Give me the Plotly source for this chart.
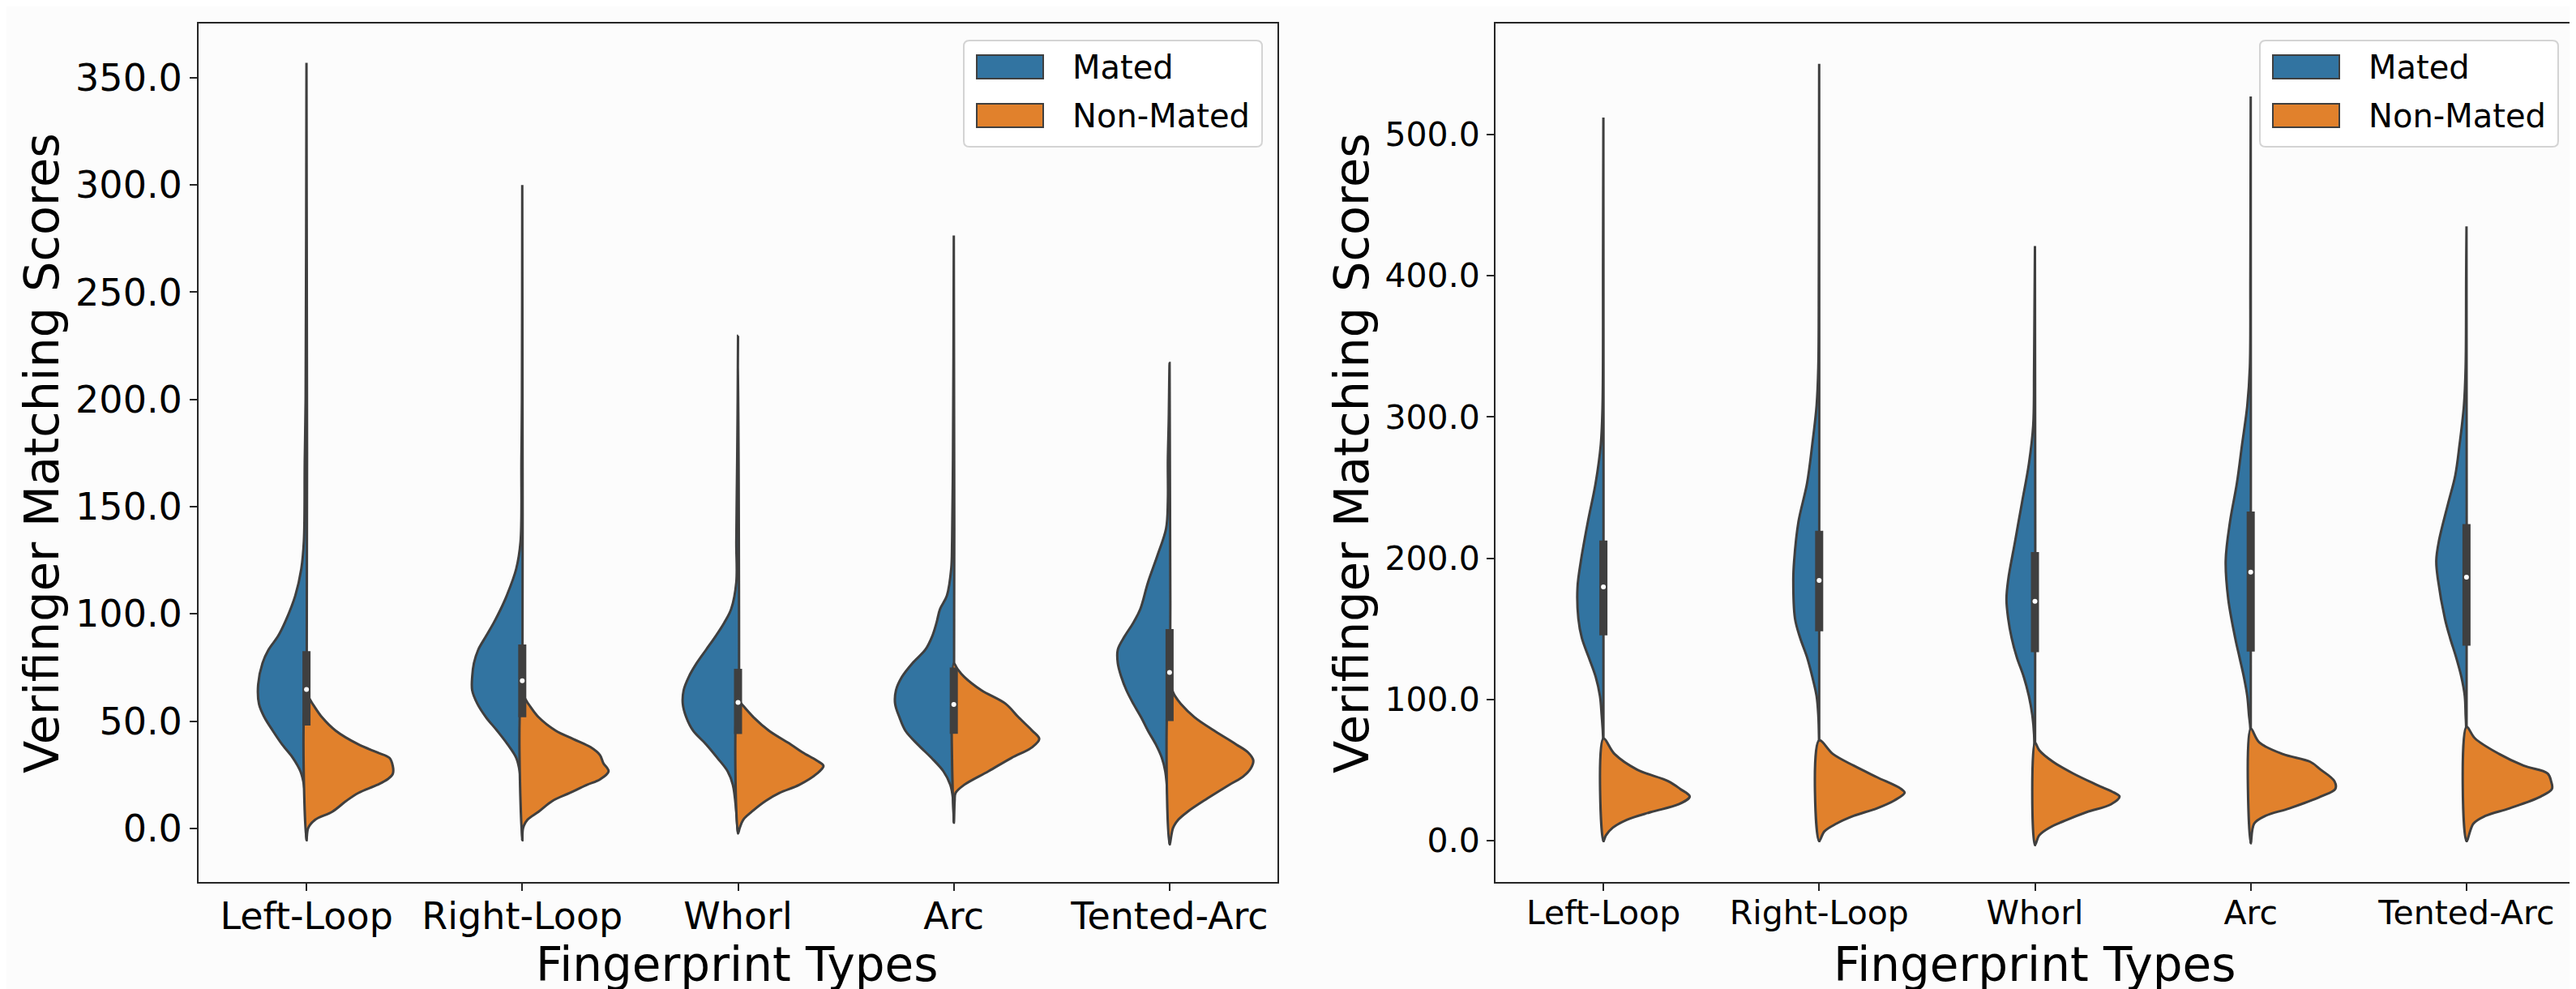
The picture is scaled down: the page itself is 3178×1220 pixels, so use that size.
import plotly.graph_objects as go

W, H = 3178, 1220
CATEGORIES = ["Left-Loop", "Right-Loop", "Whorl", "Arc", "Tented-Arc"]
SERIES = ["Mated", "Non-Mated"]

# ---------------- Left panel: score grid and relative density (max = 1) ----------------
L_MATED_Y = [
    [357, 200, 171, 134, 121, 108.5, 96, 89.6, 83.3, 77, 67, 58, 52, 45.5, 39, 33, 26.6, 20.3, 7.8, -5.5],
    [300, 200, 171.4, 133.6, 121, 108.5, 102.2, 95.9, 89.6, 83.3, 77, 70.7, 64.4, 58.1, 51.8, 45.5, 39.2, 32.9, 26.6, 14, -5.5],
    [229.7, 200, 171.4, 133.6, 114.7, 102.2, 95.9, 89.6, 83.3, 77.0, 70.7, 64.4, 58.1, 51.8, 45.5, 39.2, 32.9, 26.6, 20.3, 7.7, -2.3],
    [276.5, 220, 171.4, 133.6, 121.0, 108.5, 102.2, 95.9, 89.6, 83.3, 77.0, 70.7, 64.4, 58.1, 51.8, 45.5, 39.2, 32.9, 26.6, 20.3, 14.0, 2.7],
    [217, 190, 171.4, 152.5, 139.9, 127.3, 114.7, 102.2, 95.9, 89.6, 83.3, 77.0, 70.7, 64.4, 58.1, 51.8, 45.5, 39.2, 32.9, 26.6, 14.0, -7.4],
]
L_MATED_D = [
    [0, .01, .02, .03, .06, .13, .25, .33, .44, .51, .56, .55, .49, .39, .28, .16, .07, .03, .01, 0],
    [0, .004, .01, .02, .07, .18, .25, .33, .42, .51, .56, .58, .58, .52, .42, .29, .17, .07, .03, .01, 0],
    [0, .004, .01, .02, .02, .08, .16, .26, .37, .48, .57, .63, .64, .60, .52, .37, .24, .12, .06, .02, 0],
    [0, .004, .01, .02, .03, .08, .16, .20, .25, .33, .48, .60, .67, .68, .63, .56, .42, .26, .12, .04, .01, 0],
    [0, .01, .02, .02, .04, .14, .25, .34, .42, .52, .60, .60, .56, .50, .42, .33, .25, .16, .09, .05, .02, 0],
]
L_NONMATED_Y = [
    [62, 58.1, 51.8, 45.5, 39.2, 35.4, 32.9, 29.1, 25.4, 22.9, 20.3, 16.5, 12.8, 7.8, 4.0, 0.2, -5.5],
    [61.9, 58.1, 51.8, 45.5, 41.7, 37.9, 34.2, 30.4, 26.6, 22.8, 20.3, 16.5, 12.8, 7.8, 4.0, 0.2, -5.5],
    [60.0, 58.1, 51.8, 45.5, 39.2, 35.4, 31.7, 29.1, 25.4, 20.3, 16.5, 12.8, 7.8, 4.0, 0.2, -2.3],
    [77, 74.5, 70.7, 64.4, 58.1, 51.8, 45.5, 41.7, 37.9, 32.9, 26.6, 20.3, 16.5, 12.8, 2.7],
    [66.3, 61.9, 58.1, 51.8, 45.5, 39.2, 35.4, 31.7, 27.9, 24.1, 20.3, 14.0, 7.8, 4.0, 0.2, -7.4],
]
L_NONMATED_D = [
    [0, .07, .18, .34, .60, .82, .96, 1.0, 1.0, .94, .82, .60, .46, .30, .10, .02, 0],
    [0, .07, .19, .39, .59, .79, .90, .94, 1.0, .90, .75, .55, .35, .19, .06, .01, 0],
    [0, .04, .18, .36, .61, .75, .91, .99, .91, .71, .48, .32, .16, .06, .02, 0],
    [0, .04, .12, .32, .60, .75, .91, .99, .91, .67, .40, .12, .02, .01, 0],
    [0, .06, .13, .29, .52, .77, .91, .97, .94, .85, .69, .44, .21, .10, .04, 0],
]
L_Q1 = [48.0, 51.8, 44.0, 44.1, 50.0]
L_MED = [64.8, 68.8, 58.7, 57.8, 72.7]
L_Q3 = [82.6, 85.8, 74.4, 75.0, 92.9]

# ---------------- Right panel ----------------
R_MATED_Y = [
    [512, 417.5, 307.9, 280.5, 253.1, 225.7, 198.3, 179.1, 157.2, 143.5, 129.8, 116.1, 102.4, 88.7, 72.3, -0.3],
    [550, 400, 335.3, 307.9, 280.5, 253.1, 225.7, 198.3, 184.6, 157.2, 143.5, 129.8, 116.1, 102.4, 88.7, 72, -0.3],
    [421, 335, 294, 266.8, 239.4, 212, 184.6, 170.9, 157.2, 143.5, 129.8, 116.1, 102.4, 88.7, 75, -3.1],
    [527, 400, 335.3, 307.9, 280.5, 253.1, 225.7, 198.3, 170.9, 143.5, 129.8, 116.1, 102.4, 88.7, 79, -1.7],
    [435, 400, 335.3, 307.9, 280.5, 258.6, 239.4, 212, 198.3, 184.6, 157.2, 143.5, 129.8, 116.1, 102.4, 88.7, 80, -0.3],
]
R_MATED_D = [
    [0, .004, .01, .03, .09, .18, .26, .30, .29, .25, .17, .09, .04, .02, .003, 0],
    [0, .004, .01, .03, .08, .14, .24, .29, .30, .28, .22, .14, .08, .03, .01, .002, 0],
    [0, .01, .02, .07, .15, .23, .31, .33, .31, .27, .21, .13, .07, .03, .01, 0],
    [0, .004, .01, .04, .10, .16, .24, .29, .26, .18, .13, .08, .04, .02, .004, 0],
    [0, .004, .01, .03, .08, .13, .21, .32, .35, .33, .25, .19, .12, .06, .02, .01, .004, 0],
]
R_NONMATED_Y = [
    [72.3, 61.3, 50.3, 42.1, 36.6, 31.2, 25.7, 20.2, 14.7, 9.2, 3.8, -0.3],
    [70.9, 61.3, 53.1, 44.9, 36.6, 33.9, 28.4, 22.9, 17.5, 12.0, 6.5, -0.3],
    [69.5, 64, 55.8, 47.6, 39.4, 33.9, 31.2, 25.7, 20.2, 14.7, 9.2, 3.8, -3.1],
    [79.1, 69.5, 61.3, 55.8, 50.3, 42.1, 36.6, 31.2, 22.9, 17.5, 12.0, -1.7],
    [80.5, 72.3, 61.3, 53.1, 47.6, 42.1, 36.6, 31.2, 22.9, 17.5, 12.0, -0.3],
]
R_NONMATED_D = [
    [0, .13, .39, .75, .89, 1.0, .87, .55, .27, .11, .03, 0],
    [0, .16, .40, .67, .95, .99, .87, .67, .40, .20, .06, 0],
    [0, .05, .21, .44, .72, .92, .98, .88, .60, .37, .17, .05, 0],
    [0, .10, .37, .69, .81, .97, .98, .81, .45, .17, .04, 0],
    [0, .10, .38, .66, .94, .98, .99, .86, .50, .22, .08, 0],
]
R_Q1 = [145.4, 148.2, 133.4, 133.9, 138.0]
R_MED = [179.7, 184.3, 169.5, 190.1, 186.5]
R_Q3 = [212.5, 219.4, 204.3, 233.1, 224.1]

L_TICKS = [0, 50, 100, 150, 200, 250, 300, 350]
R_TICKS = [0, 100, 200, 300, 400, 500]

# ---------------- styling ----------------
BLUE = "#3274a1"
ORANGE = "#e1812c"
EDGE = "#3f3f3f"
BG = "#fcfcfc"
FONT = "DejaVu Sans"
HALF = 0.4

def px(x):
    return x / W

def py(y):
    return 1 - y / H

fig = go.Figure()


def add_panel(xa, ya, my, md, ny, nd, q1, med, q3):
    for i in range(len(CATEGORIES)):
        for ys, ds, side, col in ((my[i], md[i], -1, BLUE), (ny[i], nd[i], 1, ORANGE)):
            xs = [i + side * HALF * d for d in ds]
            xs = xs + [xs[0]]
            yy = list(ys) + [ys[0]]
            fig.add_trace(go.Scatter(
                x=xs, y=yy, mode="lines", fill="toself", fillcolor=col,
                line=dict(color=EDGE, width=3, shape="spline", smoothing=1.0),
                xaxis=xa, yaxis=ya, showlegend=False, hoverinfo="skip"))
    for i in range(len(CATEGORIES)):
        fig.add_trace(go.Scatter(
            x=[i, i], y=[q1[i], q3[i]], mode="lines",
            line=dict(color=EDGE, width=10),
            xaxis=xa, yaxis=ya, showlegend=False, hoverinfo="skip"))
    fig.add_trace(go.Scatter(
        x=list(range(len(CATEGORIES))), y=med, mode="markers",
        marker=dict(color="white", size=6, line=dict(width=0)),
        xaxis=xa, yaxis=ya, showlegend=False, hoverinfo="skip"))


add_panel("x", "y", L_MATED_Y, L_MATED_D, L_NONMATED_Y, L_NONMATED_D, L_Q1, L_MED, L_Q3)
add_panel("x2", "y2", R_MATED_Y, R_MATED_D, R_NONMATED_Y, R_NONMATED_D, R_Q1, R_MED, R_Q3)

ydom = [py(1080), py(21)]
common_x = dict(tickmode="array", tickvals=list(range(len(CATEGORIES))), ticktext=CATEGORIES,
                range=[-0.5, 4.5], showgrid=False, zeroline=False, showline=True, mirror=True,
                linecolor="#262626", linewidth=2, ticks="outside", ticklen=9, tickwidth=2,
                tickcolor="#262626", ticklabelstandoff=-8)
common_y = dict(showgrid=False, zeroline=False, showline=True, mirror=True,
                linecolor="#262626", linewidth=2, ticks="outside", ticklen=9, tickwidth=2,
                tickcolor="#262626", tickformat=".1f", tickmode="array")

fig.update_layout(
    width=W, height=H,
    margin=dict(l=0, r=0, t=0, b=0),
    paper_bgcolor=BG, plot_bgcolor=BG,
    font=dict(family=FONT, color="black"),
    showlegend=False,
    xaxis=dict(domain=[px(237), px(1568)], anchor="y", tickfont=dict(size=46, family=FONT), **common_x),
    yaxis=dict(domain=ydom, anchor="x", range=[-25.0, 375.3], tickvals=L_TICKS,
               tickfont=dict(size=46, family=FONT), **common_y),
    xaxis2=dict(domain=[px(1837), px(3168)], anchor="y2", tickfont=dict(size=41, family=FONT), **common_x),
    yaxis2=dict(domain=ydom, anchor="x2", range=[-29.3, 578.6], tickvals=R_TICKS,
                tickfont=dict(size=41, family=FONT), **common_y),
)

ann = []
shapes = []
# axis titles
for cx, cy in ((902, 1182), (2502, 1182)):
    ann.append(dict(text="Fingerprint Types", x=px(cx), y=py(cy), xref="paper", yref="paper",
                    showarrow=False, xanchor="center", yanchor="middle",
                    font=dict(size=58, family=FONT, color="black")))
for cx in (44, 1660):
    ann.append(dict(text="Verifinger Matching Scores", x=px(cx), y=py(551), xref="paper", yref="paper",
                    showarrow=False, xanchor="center", yanchor="middle", textangle=-90,
                    font=dict(size=59, family=FONT, color="black")))


def rounded_box(x0, y0, x1, y1, r):
    X = lambda v: px(v)
    Y = lambda v: py(v)
    return (f"M {X(x0 + r)} {Y(y0)} L {X(x1 - r)} {Y(y0)} Q {X(x1)} {Y(y0)} {X(x1)} {Y(y0 + r)} "
            f"L {X(x1)} {Y(y1 - r)} Q {X(x1)} {Y(y1)} {X(x1 - r)} {Y(y1)} "
            f"L {X(x0 + r)} {Y(y1)} Q {X(x0)} {Y(y1)} {X(x0)} {Y(y1 - r)} "
            f"L {X(x0)} {Y(y0 + r)} Q {X(x0)} {Y(y0)} {X(x0 + r)} {Y(y0)} Z")


# legends (one per panel)
for bx0, bx1, patch_x0, text_x in ((1181, 1549, 1197, 1313), (2780, 3148, 2796, 2912)):
    shapes.append(dict(type="path", path=rounded_box(bx0, 42, bx1, 173, 7), xref="paper", yref="paper",
                       line=dict(color="#d4d4d4", width=2), fillcolor="rgba(255,255,255,0.8)"))
    for k, (name, col) in enumerate(zip(SERIES, (BLUE, ORANGE))):
        y0 = 60 + 60 * k
        shapes.append(dict(type="rect", x0=px(patch_x0), x1=px(patch_x0 + 82), y0=py(y0), y1=py(y0 + 29),
                           xref="paper", yref="paper", line=dict(color=EDGE, width=2), fillcolor=col))
        ann.append(dict(text=name, x=px(text_x), y=py(y0 + 15), xref="paper", yref="paper",
                        showarrow=False, xanchor="left", yanchor="middle",
                        font=dict(size=40, family=FONT, color="black")))

fig.update_layout(annotations=ann, shapes=shapes)
fig.write_html("out.html")
